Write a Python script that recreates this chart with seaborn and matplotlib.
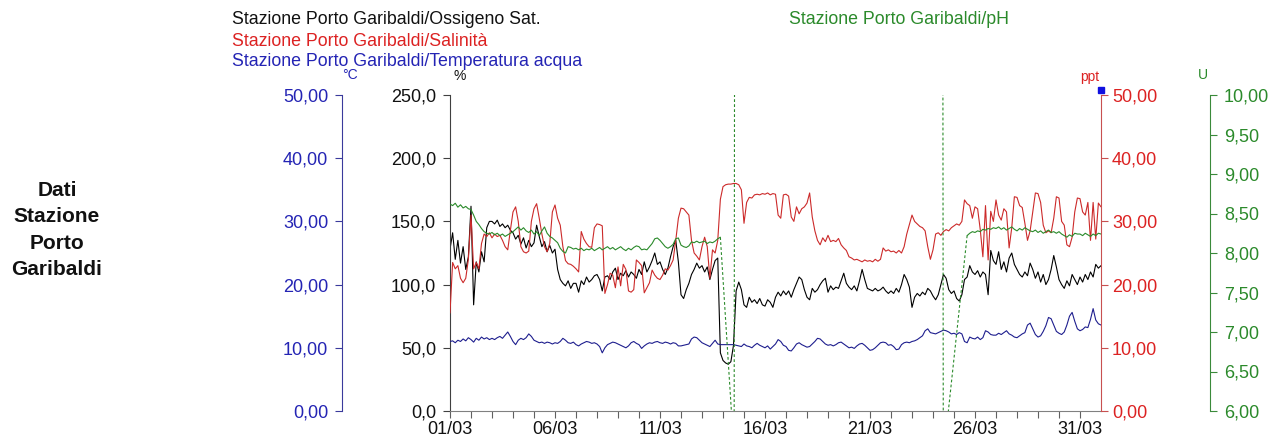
import numpy as np
import pandas as pd
import matplotlib
matplotlib.use("Agg")
import matplotlib.pyplot as plt
import matplotlib.dates as mdates
from matplotlib.ticker import FuncFormatter, FixedLocator
import seaborn as sns

# --- data: 3-hourly readings (8 per day) from 01/03 00:00 ---
start = pd.Timestamp("2021-03-01")

oxygen_sat = [
    128, 141, 120, 135, 117, 130, 112, 122,
    162, 84, 118, 110, 126, 118, 145, 150,
    150, 148, 151, 146, 148, 145, 147, 143,
    141, 136, 139, 132, 137, 129, 135, 130,
    133, 147, 138, 130, 134, 126, 131, 125,
    128, 112, 104, 101, 99, 103, 97, 101,
    101, 94, 103, 100, 106, 102, 104, 107,
    108, 104, 95, 106, 107, 104, 110, 113,
    104, 109, 107, 111, 106, 110, 108, 105,
    112, 108, 118, 110, 114, 119, 125, 116,
    118, 112, 108, 113, 122, 130, 135, 118,
    92, 89, 96, 101, 108, 112, 117, 113,
    115, 110, 114, 104, 112, 119, 121, 46,
    40, 38, 37, 39, 52, 95, 102, 96,
    84, 82, 90, 86, 88, 85, 89, 84,
    83, 88, 86, 82, 90, 94, 91, 95,
    92, 95, 90, 96, 101, 106, 104, 96,
    90, 88, 97, 94, 96, 100, 103, 105,
    94, 99, 96, 98, 97, 103, 109, 101,
    98, 96, 99, 95, 103, 112, 104, 97,
    96, 95, 97, 95, 96, 98, 95, 93,
    95, 93, 97, 94, 100, 108, 104, 98,
    82, 90, 93, 91, 94, 92, 97, 95,
    91, 88, 92, 100, 108, 105, 96, 93,
    95, 89, 87, 92, 104, 106, 115, 110,
    108, 111, 106, 110, 108, 92, 127, 119,
    116, 126, 112, 118, 110, 121, 125, 116,
    112, 108, 106, 110, 107, 117, 112, 105,
    110, 102, 108, 100, 104, 112, 123, 114,
    104, 100, 97, 103, 99, 108, 104, 100,
    106, 102, 108, 104, 110, 106, 116, 113,
    115,
]

salinity = [
    15.5, 23.5, 22.5, 23.0, 21.0, 20.3, 21.0, 24.0,
    31.0, 22.5, 23.5, 22.5, 26.5, 28.0, 27.6, 28.2,
    27.4, 28.0, 27.6, 27.8, 27.0, 26.0, 25.5, 28.6,
    31.5, 32.3, 30.0, 26.0, 25.2, 25.0, 25.3, 30.0,
    32.0, 32.8, 30.5, 28.0, 26.0, 25.2, 26.5, 31.5,
    32.6, 30.5, 29.4, 26.0, 23.8, 23.3, 23.2, 22.9,
    22.5, 22.0, 28.4, 27.2, 26.5, 26.0, 25.9, 29.0,
    29.6, 29.5, 29.3, 18.6, 20.0, 21.8, 21.5, 19.5,
    22.8, 19.8, 23.2, 22.4, 19.0, 18.8, 19.2, 23.9,
    23.5, 23.0, 18.7, 19.5, 20.3, 22.3, 21.5, 21.0,
    20.8, 21.5, 22.5, 22.3, 23.0, 23.9, 27.0, 30.5,
    32.1, 32.0, 31.5, 31.0, 27.0, 25.0, 24.5, 23.9,
    26.0, 27.5, 26.0, 21.0, 25.5, 25.0, 27.0, 33.5,
    35.5, 35.8, 35.9, 35.9, 36.0, 36.0, 35.8, 35.0,
    29.7, 33.0, 33.8, 33.7, 34.2, 34.3, 34.2, 34.4,
    34.3, 34.5, 34.2, 34.4, 34.3, 31.0, 30.5, 34.2,
    34.3, 34.0, 30.7, 30.0, 32.3, 31.2, 32.0, 32.3,
    32.9, 34.5, 30.7, 28.5, 27.0, 26.3, 27.4, 26.8,
    27.8, 26.8, 27.0, 26.8, 27.3, 26.3, 25.8, 25.4,
    24.4, 24.2, 23.9, 24.0, 23.8, 23.6, 23.9, 23.7,
    23.8, 23.6, 24.0, 23.7, 24.0, 25.8, 25.3, 25.5,
    25.2, 25.3, 25.0, 25.4, 25.0, 26.0, 28.0, 29.5,
    31.0, 30.0, 29.6, 29.2, 29.0, 28.5, 26.0, 24.0,
    25.5, 28.0, 28.2, 27.8, 28.4, 28.7, 28.5, 29.0,
    29.3, 29.6, 29.4, 30.0, 33.4, 32.8, 32.5, 30.5,
    32.3, 32.0, 28.7, 24.4, 32.5, 23.9, 31.6, 30.0,
    33.4, 31.0, 30.2, 32.0, 31.5, 25.8, 29.0, 33.9,
    33.8, 32.5, 32.2, 29.7, 27.0, 28.5, 31.5, 34.5,
    34.4, 33.0, 29.4, 28.2, 28.5, 28.2, 30.5, 33.9,
    33.7, 30.0, 29.4, 26.3, 26.0, 27.5, 31.5, 33.7,
    33.6, 31.5, 31.0, 33.0, 27.0, 33.0, 27.2, 32.9,
    32.3,
]

water_temp = [
    11.0, 11.1, 10.8, 11.2, 11.0, 11.4, 11.1, 11.6,
    11.3, 10.9, 11.5, 11.2, 11.7, 11.4, 11.6, 11.3,
    11.5, 11.3, 11.6, 11.8, 11.5, 12.0, 12.5, 11.8,
    11.0, 10.5, 11.2, 11.5, 11.3, 11.6, 12.2, 11.8,
    11.2, 11.0, 10.8, 10.9, 10.7, 10.9, 10.8, 10.6,
    10.8, 10.7, 11.0, 11.5, 11.2, 10.8, 10.7, 10.9,
    10.5, 10.3, 10.6, 10.8, 11.0, 10.9, 10.7, 10.8,
    10.6, 10.2, 9.2, 10.0, 10.5, 10.7, 10.9, 10.8,
    10.6, 10.4, 10.2, 10.0, 10.3, 10.8, 11.0, 10.7,
    10.5, 9.9, 10.3, 10.6, 10.8, 10.7, 10.9, 11.0,
    10.8, 10.7, 10.9, 10.8, 10.6, 10.8, 10.7, 10.3,
    10.3, 10.4, 10.5, 10.6, 11.4, 11.7, 11.6, 11.2,
    10.8, 10.6, 10.4, 10.2, 10.7, 11.2, 10.6, 10.5,
    10.5, 10.5, 10.5, 10.5, 10.5, 10.4, 10.3, 10.2,
    10.6, 10.3, 10.2, 10.0, 10.4, 10.7, 10.4, 10.2,
    10.0, 10.3, 9.8, 10.2, 10.6, 11.3, 11.0, 10.4,
    10.2, 9.6, 9.5, 10.0, 10.6, 10.8, 10.5, 10.3,
    10.1, 10.2, 10.6, 11.0, 11.5, 11.4, 11.0, 10.6,
    10.4, 10.5, 10.3, 10.5, 10.8, 10.9, 10.6, 10.3,
    10.0, 10.1, 9.9, 10.3, 10.6, 10.7, 10.4, 10.0,
    9.6, 9.7, 10.0, 10.4, 10.8, 10.9, 10.8, 10.4,
    10.5, 10.2, 9.7, 9.8, 10.5, 10.8, 10.9, 10.8,
    11.0, 11.1, 11.3, 11.6, 11.9, 12.7, 13.0, 12.4,
    12.3, 12.2, 12.4, 12.6, 12.8, 12.7, 12.5, 12.2,
    12.3, 12.1, 12.4, 12.2, 11.0, 10.8, 11.7, 11.5,
    11.4, 11.7, 11.3, 11.6, 12.7, 12.5, 12.1, 12.0,
    12.0, 12.3, 12.1, 12.4, 12.7, 12.2, 12.0, 11.7,
    11.6, 11.9, 12.2, 12.4, 13.6, 13.9, 13.0, 12.1,
    11.7, 11.9, 12.6, 13.5, 14.8, 14.6, 13.6, 12.6,
    12.3, 12.1, 12.5, 13.6, 15.0, 15.6, 14.2, 13.0,
    12.7, 12.9, 13.3, 13.2, 14.5, 16.2, 14.4, 13.8,
    13.6,
]

# pH: first block starts 01/03 00:00, second block starts 24/03 15:00
ph_first = [
    8.62, 8.60, 8.63, 8.58, 8.61, 8.57, 8.59, 8.56,
    8.55, 8.48, 8.40, 8.36, 8.31, 8.27, 8.25, 8.24,
    8.26, 8.23, 8.25, 8.22, 8.24, 8.21, 8.23, 8.25,
    8.27, 8.30, 8.33, 8.29, 8.32, 8.28, 8.26, 8.29,
    8.24, 8.27, 8.22, 8.28, 8.33, 8.25, 8.21, 8.19,
    8.16, 8.13, 8.06, 8.02, 8.00, 8.08, 8.07, 8.05,
    8.06, 8.04, 8.06, 8.03, 8.05, 8.04, 8.06, 8.03,
    8.05, 8.07, 8.04, 8.06, 8.08, 8.05, 8.07, 8.04,
    8.06, 8.08, 8.05, 8.03, 8.06, 8.04, 8.07, 8.09,
    8.08, 8.04, 8.05, 8.04, 8.08, 8.12, 8.18, 8.19,
    8.16, 8.12, 8.08, 8.06, 8.08, 8.11, 8.18, 8.19,
    8.10, 8.08, 8.07, 8.09, 8.14, 8.13, 8.15, 8.13,
    8.14, 8.15, 8.12, 8.14, 8.13, 8.15, 8.18, 8.20,
]
ph_second = [
    8.22, 8.25, 8.27,
    8.26, 8.28, 8.27, 8.30, 8.29, 8.31, 8.30, 8.32,
    8.31, 8.33, 8.30, 8.32, 8.29, 8.31, 8.33, 8.30,
    8.28, 8.31, 8.29, 8.32, 8.30, 8.28, 8.27, 8.29,
    8.26, 8.28, 8.25, 8.27, 8.29, 8.26, 8.27, 8.25,
    8.27, 8.24, 8.22, 8.20, 8.23, 8.21, 8.25, 8.24,
    8.24, 8.22, 8.25, 8.23, 8.21, 8.24, 8.22, 8.25,
    8.24,
]
# out-of-range pH readings across the two gaps (drawn dashed)
ph_gap1_days = [12.875, 13.53, 13.55]
ph_gap1_vals = [8.20, 5.45, 10.6]
ph_gap2_days = [23.47, 23.49, 24.625]
ph_gap2_vals = [10.6, 5.4, 8.22]

temp_ticks = [0, 10, 20, 30, 40, 50]
oxy_ticks = [0, 50, 100, 150, 200, 250]
sal_ticks = [0, 10, 20, 30, 40, 50]
ph_ticks = [6.0, 6.5, 7.0, 7.5, 8.0, 8.5, 9.0, 9.5, 10.0]
date_tick_days = [1, 6, 11, 16, 21, 26, 31]


def to_time(days):
    return start + pd.to_timedelta(np.asarray(days, dtype=float), unit="D")


def comma_fmt(dec):
    return FuncFormatter(lambda v, p: f"{v:.{dec}f}".replace(".", ","))


t_grid = to_time(np.arange(len(oxygen_sat)) / 8)
t_ph1 = to_time(np.arange(len(ph_first)) / 8)
t_ph2 = to_time(24.625 + np.arange(len(ph_second)) / 8)

sns.set_style("white")
plt.rcParams['font.family'] = ['Liberation Sans', 'DejaVu Sans']

BLUE = '#2424b4'
RED = '#dc2222'
GREEN = '#2b8a2b'
BLACK = '#111111'

fig = plt.figure(figsize=(12.81, 4.46), dpi=100)
ax = fig.add_axes([450 / 1281, 35 / 446, 651 / 1281, 316 / 446])
ax_t = ax.twinx()
ax_s = ax.twinx()
ax_p = ax.twinx()

# lines
sns.lineplot(x=t_grid, y=water_temp, ax=ax_t, color='#1e1e8e', linewidth=0.8, estimator=None)
sns.lineplot(x=t_grid, y=oxygen_sat, ax=ax, color='black', linewidth=0.8, estimator=None)
sns.lineplot(x=t_grid, y=salinity, ax=ax_s, color='#cc2a2a', linewidth=0.8, estimator=None)
sns.lineplot(x=t_ph1, y=ph_first, ax=ax_p, color='#2a8a2a', linewidth=0.8, estimator=None)
sns.lineplot(x=t_ph2, y=ph_second, ax=ax_p, color='#2a8a2a', linewidth=0.8, estimator=None)
for gd, gv in [(ph_gap1_days, ph_gap1_vals), (ph_gap2_days, ph_gap2_vals)]:
    sns.lineplot(x=to_time(gd), y=gv, ax=ax_p, color='#2a8a2a', linewidth=0.8,
                 linestyle=(0, (2.5, 2)), estimator=None, sort=False)

# axes setup
ax.set_xlim(start, start + pd.Timedelta(days=31))
ax.set_ylim(0, 250)
ax_t.set_ylim(0, 50)
ax_s.set_ylim(0, 50)
ax_p.set_ylim(6, 10)

for a in (ax, ax_t, ax_s, ax_p):
    for sp in a.spines.values():
        sp.set_visible(False)
    a.set_xlabel('')
    a.set_ylabel('')
    a.grid(False)

# x axis
ax.spines['bottom'].set_visible(True)
ax.spines['bottom'].set_color('#808080')
major_dates = mdates.date2num(to_time([d - 1 for d in date_tick_days]))
minor_dates = mdates.date2num(to_time(np.arange(0, 31)))
ax.xaxis.set_major_locator(FixedLocator(major_dates))
ax.xaxis.set_minor_locator(FixedLocator(minor_dates))
ax.xaxis.set_major_formatter(mdates.DateFormatter('%d/%m'))
ax.tick_params(axis='x', which='both', direction='out', length=5, width=0.8,
               color='#606060', labelsize=13, pad=2, bottom=True, labelcolor=BLACK)

# oxygen (black, left)
ax.spines['left'].set_visible(True)
ax.spines['left'].set_color('#404040')
ax.yaxis.set_major_locator(FixedLocator(oxy_ticks))
ax.yaxis.set_major_formatter(comma_fmt(1))
ax.tick_params(axis='y', direction='out', length=5, width=0.8, color='#404040',
               labelsize=13, pad=5, left=True, labelcolor=BLACK)

# temperature (blue, far left)
ax_t.yaxis.set_ticks_position('left')
ax_t.yaxis.set_label_position('left')
ax_t.spines['left'].set_position(('axes', -108 / 651))
ax_t.spines['left'].set_visible(True)
ax_t.spines['left'].set_color('#3a3a9c')
ax_t.yaxis.set_major_locator(FixedLocator(temp_ticks))
ax_t.yaxis.set_major_formatter(comma_fmt(2))
ax_t.tick_params(axis='y', direction='out', length=5, width=0.8, color='#3a3a9c',
                 labelsize=13, pad=5, labelcolor=BLUE)

# salinity (red, right)
ax_s.spines['right'].set_visible(True)
ax_s.spines['right'].set_color('#c85050')
ax_s.yaxis.set_major_locator(FixedLocator(sal_ticks))
ax_s.yaxis.set_major_formatter(comma_fmt(2))
ax_s.tick_params(axis='y', direction='out', length=5, width=0.8, color='#c85050',
                 labelsize=13, pad=3, labelcolor=RED)

# pH (green, far right)
ax_p.spines['right'].set_position(('axes', 760 / 651))
ax_p.spines['right'].set_visible(True)
ax_p.spines['right'].set_color('#3a8a3a')
ax_p.yaxis.set_major_locator(FixedLocator(ph_ticks))
ax_p.yaxis.set_major_formatter(comma_fmt(2))
ax_p.tick_params(axis='y', direction='out', length=5, width=0.8, color='#3a8a3a',
                 labelsize=13, pad=5, labelcolor=GREEN)

for a in (ax_t, ax_s, ax_p):
    a.tick_params(axis='x', which='both', bottom=False, labelbottom=False)

# small cursor marker at top right
ax.plot([1.0], [1.016], marker='s', markersize=5, color='#1010e0',
        transform=ax.transAxes, clip_on=False)

# titles / legend text
fig.text(232 / 1281, 1 - 19 / 446, 'Stazione Porto Garibaldi/Ossigeno Sat.', color=BLACK,
         fontsize=12.8, ha='left', va='center')
fig.text(232 / 1281, 1 - 41 / 446, 'Stazione Porto Garibaldi/Salinità', color=RED,
         fontsize=12.8, ha='left', va='center')
fig.text(232 / 1281, 1 - 62 / 446, 'Stazione Porto Garibaldi/Temperatura acqua', color=BLUE,
         fontsize=12.8, ha='left', va='center')
fig.text(789 / 1281, 1 - 19 / 446, 'Stazione Porto Garibaldi/pH', color=GREEN,
         fontsize=12.8, ha='left', va='center')

# unit labels
fig.text(350 / 1281, 1 - 75 / 446, '°C', color=BLUE, fontsize=10, ha='center', va='center')
fig.text(460 / 1281, 1 - 76 / 446, '%', color=BLACK, fontsize=10, ha='center', va='center')
fig.text(1090 / 1281, 1 - 77 / 446, 'ppt', color=RED, fontsize=10, ha='center', va='center')
fig.text(1203 / 1281, 1 - 75 / 446, 'U', color=GREEN, fontsize=10, ha='center', va='center')

fig.text(57 / 1281, 1 - 230 / 446, 'Dati\nStazione\nPorto\nGaribaldi', fontsize=15,
         fontweight='bold', ha='center', va='center', linespacing=1.47, color=BLACK)

fig.savefig('out.png', dpi=100)
